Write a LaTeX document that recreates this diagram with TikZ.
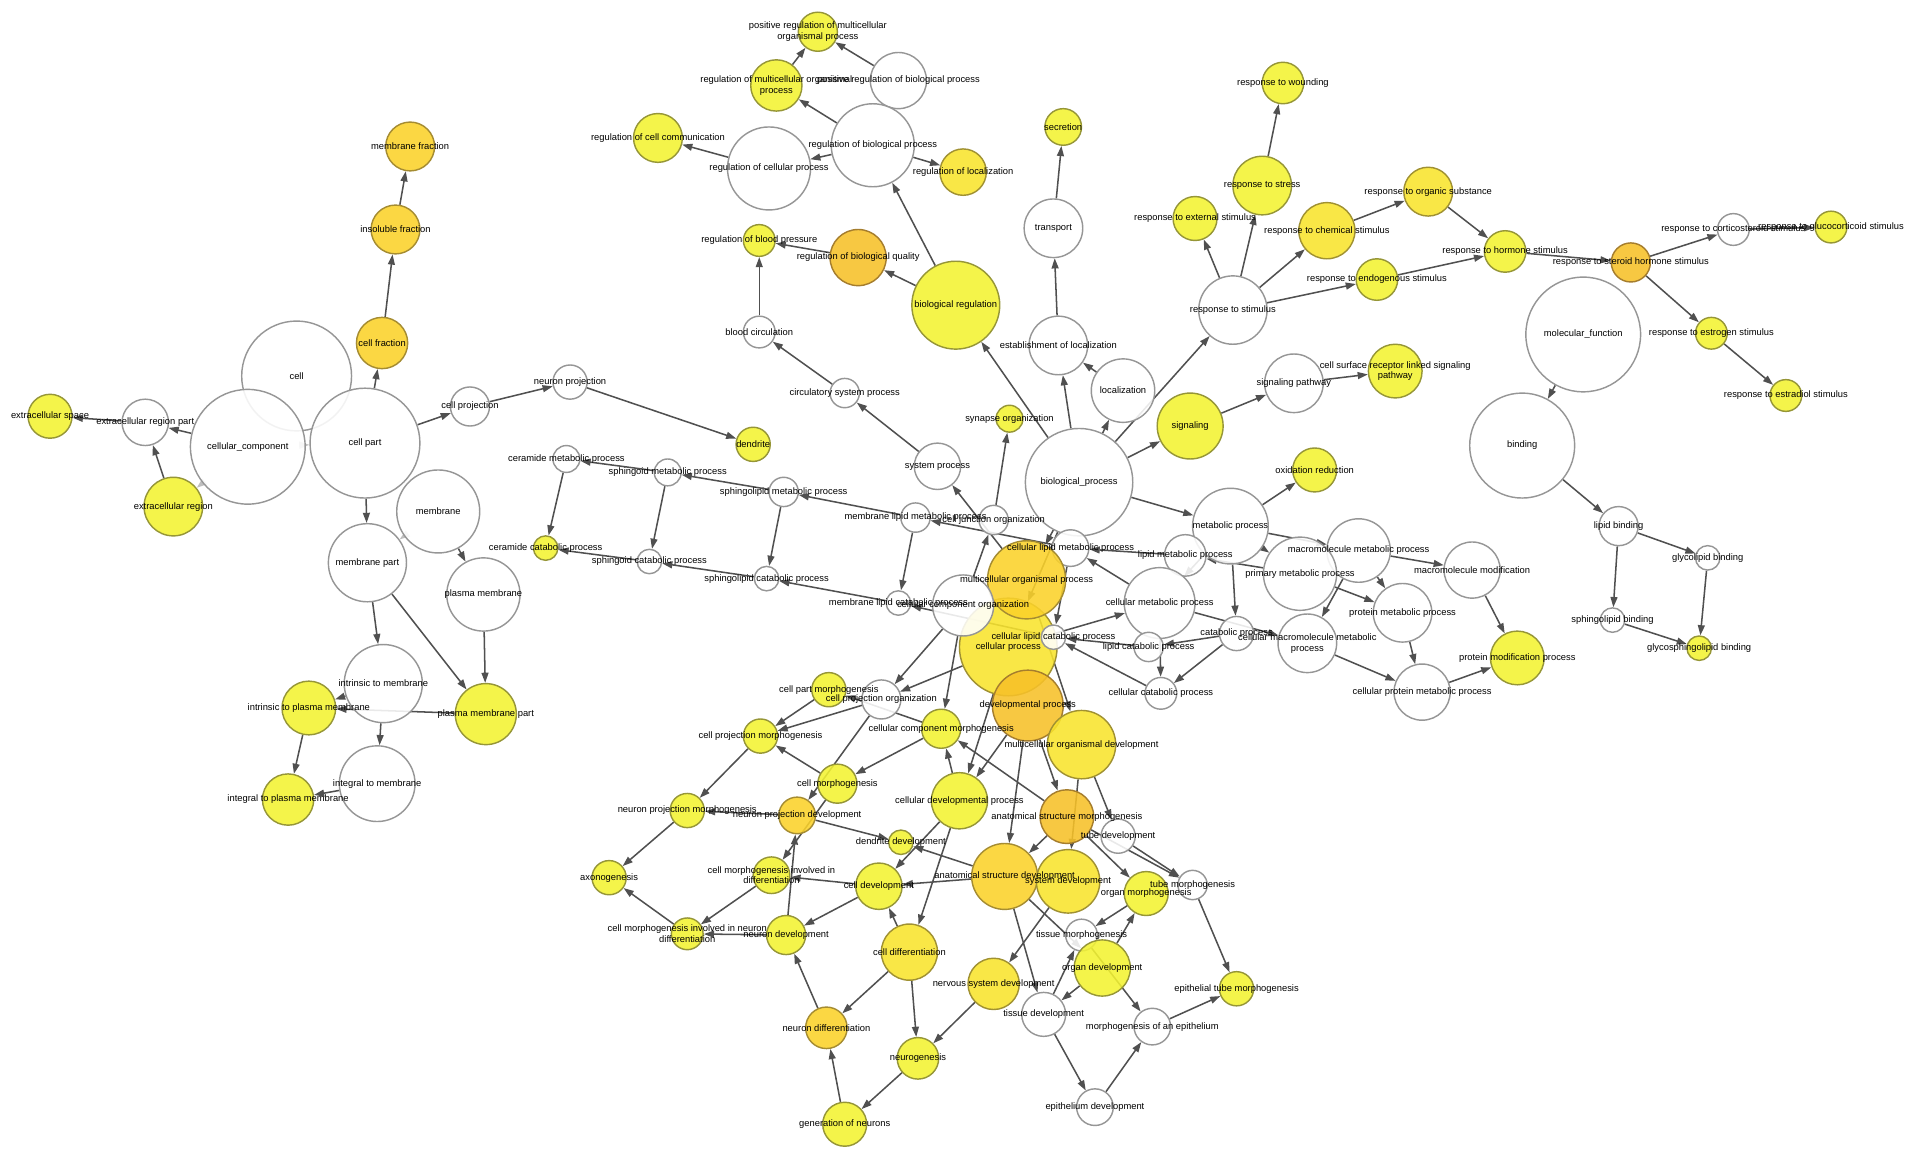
\documentclass[tikz,border=0pt]{standalone}
\usepackage{fontspec}
\setmainfont{Liberation Sans}
\usetikzlibrary{arrows.meta}
\pgfdeclarelayer{bg}
\pgfdeclarelayer{fg}
\pgfsetlayers{bg,main,fg}
\definecolor{cW}{RGB}{255,255,255}
\definecolor{cWl}{RGB}{150,150,150}
\definecolor{cY}{RGB}{243,243,50}
\definecolor{cYl}{RGB}{150,150,55}
\definecolor{cYO}{RGB}{249,228,45}
\definecolor{cYOl}{RGB}{160,145,50}
\definecolor{cG}{RGB}{251,210,42}
\definecolor{cGl}{RGB}{165,140,50}
\definecolor{cO}{RGB}{247,193,40}
\definecolor{cOl}{RGB}{165,125,45}
\definecolor{edgec}{RGB}{80,80,80}
\tikzset{
 gnode/.style={circle,inner sep=0pt,line width=0.7pt,fill opacity=0.88},
 lab/.style={inner sep=0pt,align=center,font=\fontsize{4.6}{5.2}\selectfont,text=black},
 edge/.style={draw=edgec,line width=0.75pt,-{Triangle[length=5pt,width=3.4pt]}},
 ledge/.style={draw=black!25,line width=0.75pt,-{Triangle[length=5pt,width=3.4pt]}},
}
\newcommand\gn[6]{\node[gnode,fill=#5,draw=#5l,minimum size=#4*1.2pt] (#1) at (#2,#3) {};
 \begin{pgfonlayer}{fg}\node[lab] at (#2,#3) {#6};\end{pgfonlayer}}
\newcommand\ed[2]{\draw[edge] (#1) -- (#2);}
\newcommand\edl[2]{\draw[ledge] (#1) -- (#2);}
\begin{document}
\begin{tikzpicture}[x=0.6pt,y=-0.6pt]
\begin{pgfonlayer}{bg}
\fill[white] (0,0) rectangle (1568,949);
\end{pgfonlayer}
\useasboundingbox (0,0) rectangle (1568,949);
% ---------- left cluster
\gn{cell}{243}{308}{45}{cW}{cell}
\gn{cc}{203}{366}{47}{cW}{cellular\_component}
\gn{cpart}{299}{363}{45}{cW}{cell part}
\gn{ecs}{41}{341}{18}{cY}{extracellular space}
\gn{ecrp}{119}{346}{19}{cW}{extracellular region part}
\gn{ecr}{142}{415}{24}{cY}{extracellular region}
\gn{cfrac}{313}{281}{21}{cG}{cell fraction}
\gn{insol}{324}{188}{20}{cG}{insoluble fraction}
\gn{memfrac}{336}{120}{20}{cG}{membrane fraction}
\gn{cproj}{385}{333}{16}{cW}{cell projection}
\gn{nproj}{467}{313}{14}{cW}{neuron projection}
\gn{dendrite}{617}{364}{14}{cY}{dendrite}
\gn{mem}{359}{419}{34}{cW}{membrane}
\gn{mempart}{301}{461}{32}{cW}{membrane part}
\gn{pm}{396}{487}{30}{cW}{plasma membrane}
\gn{itm}{314}{560}{32}{cW}{intrinsic to membrane}
\gn{itpm}{253}{580}{22}{cY}{intrinsic to plasma membrane}
\gn{pmp}{398}{585}{25}{cY}{plasma membrane part}
\gn{igm}{309}{642}{31}{cW}{integral to membrane}
\gn{igpm}{236}{655}{21}{cY}{integral to plasma membrane}
% ---------- regulation cluster
\gn{prmop}{670}{26}{16}{cY}{positive regulation of multicellular\\organismal process}
\gn{rmop}{636}{70}{21}{cY}{regulation of multicellular organismal\\process}
\gn{prbp}{736}{66}{23}{cW}{positive regulation of biological process}
\gn{rbp}{715}{119}{34}{cW}{regulation of biological process}
\gn{rcp}{630}{138}{34}{cW}{regulation of cellular process}
\gn{rcc}{539}{113}{20}{cY}{regulation of cell communication}
\gn{rloc}{789}{141}{19}{cYO}{regulation of localization}
\gn{rbpr}{622}{197}{13}{cY}{regulation of blood pressure}
\gn{rbq}{703}{211}{23}{cO}{regulation of biological quality}
\gn{breg}{783}{250}{36}{cY}{biological regulation}
\gn{bcirc}{622}{272}{13}{cW}{blood circulation}
\gn{csp}{692}{322}{12}{cW}{circulatory system process}
\gn{sysp}{768}{382}{19}{cW}{system process}
\gn{transport}{863}{187}{24}{cW}{transport}
\gn{secretion}{871}{104}{15}{cY}{secretion}
\gn{estloc}{867}{283}{24}{cW}{establishment of localization}
\gn{loc}{920}{320}{26}{cW}{localization}
\gn{signaling}{975}{349}{27}{cY}{signaling}
\gn{synorg}{827}{343}{11}{cY}{synapse organization}
% ---------- response cluster
\gn{rwound}{1051}{68}{17}{cY}{response to wounding}
\gn{rstress}{1034}{152}{24}{cY}{response to stress}
\gn{rext}{979}{179}{18}{cY}{response to external stimulus}
\gn{rchem}{1087}{189}{23}{cYO}{response to chemical stimulus}
\gn{rorg}{1170}{157}{20}{cYO}{response to organic substance}
\gn{rhorm}{1233}{206}{17}{cY}{response to hormone stimulus}
\gn{rendo}{1128}{229}{17}{cY}{response to endogenous stimulus}
\gn{rstim}{1010}{254}{28}{cW}{response to stimulus}
\gn{sigpath}{1060}{314}{24}{cW}{signaling pathway}
\gn{csrlsp}{1143}{304}{22}{cY}{cell surface receptor linked signaling\\pathway}
\gn{rsteroid}{1336}{215}{16}{cO}{response to steroid hormone stimulus}
\gn{rcortico}{1420}{188}{13}{cW}{response to corticosteroid stimulus}
\gn{rgluco}{1500}{186}{13}{cY}{response to glucocorticoid stimulus}
\gn{restro}{1402}{273}{13}{cY}{response to estrogen stimulus}
\gn{restra}{1463}{324}{13}{cY}{response to estradiol stimulus}
\gn{molf}{1297}{274}{47}{cW}{molecular\_function}
\gn{binding}{1247}{365}{43}{cW}{binding}
\gn{lipbind}{1326}{431}{16}{cW}{lipid binding}
\gn{glybind}{1399}{457}{10}{cW}{glycolipid binding}
\gn{sphbind}{1321}{508}{10}{cW}{sphingolipid binding}
\gn{gsbind}{1392}{531}{10}{cY}{glycosphingolipid binding}
% ---------- metabolic cluster
\gn{metp}{1008}{431}{31}{cW}{metabolic process}
\gn{oxred}{1077}{385}{18}{cY}{oxidation reduction}
\gn{lipmp}{971}{455}{17}{cW}{lipid metabolic process}
\gn{mmp}{1113}{451}{26}{cW}{macromolecule metabolic process}
\gn{primp}{1065}{470}{30}{cW}{primary metabolic process}
\gn{mmod}{1206}{467}{23}{cW}{macromolecule modification}
\gn{protmp}{1149}{502}{24}{cW}{protein metabolic process}
\gn{cprotmp}{1165}{567}{23}{cW}{cellular protein metabolic process}
\gn{pmodp}{1243}{539}{22}{cY}{protein modification process}
\gn{cmetp}{950}{494}{29}{cW}{cellular metabolic process}
\gn{catp}{1013}{519}{14}{cW}{catabolic process}
\gn{cmmp}{1071}{527}{24}{cW}{cellular macromolecule metabolic\\process}
\gn{lipcatp}{941}{530}{12}{cW}{lipid catabolic process}
\gn{ccatp}{951}{568}{13}{cW}{cellular catabolic process}
\gn{cermp}{464}{376}{11}{cW}{ceramide metabolic process}
\gn{sdmp}{547}{387}{11}{cW}{sphingoid metabolic process}
\gn{slmp}{642}{403}{12}{cW}{sphingolipid metabolic process}
\gn{mlmp}{750}{424}{12}{cW}{membrane lipid metabolic process}
\gn{cercat}{447}{449}{10}{cY}{ceramide catabolic process}
\gn{sdcat}{532}{460}{10}{cW}{sphingoid catabolic process}
\gn{slcat}{628}{474}{10}{cW}{sphingolipid catabolic process}
\gn{mlcat}{736}{494}{10}{cW}{membrane lipid catabolic process}
\gn{bp}{884}{395}{44}{cW}{biological\_process}
\gn{clipmp}{877}{449}{15}{cW}{cellular lipid metabolic process}
\gn{sorg}{814}{426}{12}{cW}{cell junction organization}
% ---------- central big nodes
\gn{cellp}{826}{530}{40}{cYO}{cellular process}
\gn{mop}{841}{475}{32}{cG}{multicellular organismal process}
\gn{devp}{842}{578}{29}{cO}{developmental process}
\gn{cco}{789}{496}{25}{cW}{cellular component organization}
\gn{clipcatp}{863}{522}{10}{cW}{cellular lipid catabolic process}
% ---------- developmental cluster
\gn{cpm}{679}{565}{14}{cY}{cell part morphogenesis}
\gn{cpo}{722}{573}{16}{cW}{cell projection organization}
\gn{cprojm}{623}{603}{14}{cY}{cell projection morphogenesis}
\gn{ccm}{771}{597}{16}{cY}{cellular component morphogenesis}
\gn{cm}{686}{642}{16}{cY}{cell morphogenesis}
\gn{npm}{563}{664}{14}{cY}{neuron projection morphogenesis}
\gn{npd}{653}{668}{15}{cG}{neuron projection development}
\gn{cdp}{786}{656}{23}{cY}{cellular developmental process}
\gn{dd}{738}{690}{10}{cY}{dendrite development}
\gn{axon}{499}{719}{14}{cY}{axonogenesis}
\gn{cmid}{632}{717}{15}{cY}{cell morphogenesis involved in\\differentiation}
\gn{cdev}{720}{726}{19}{cY}{cell development}
\gn{cmind}{563}{765}{13}{cY}{cell morphogenesis involved in neuron\\differentiation}
\gn{ndev}{644}{766}{16}{cY}{neuron development}
\gn{cdiff}{745}{780}{23}{cYO}{cell differentiation}
\gn{ndiff}{677}{842}{17}{cG}{neuron differentiation}
\gn{neurog}{752}{867}{17}{cY}{neurogenesis}
\gn{genn}{692}{921}{18}{cY}{generation of neurons}
\gn{mod}{886}{610}{28}{cYO}{multicellular organismal development}
\gn{asm}{874}{669}{22}{cO}{anatomical structure morphogenesis}
\gn{xdev}{916}{685}{14}{cW}{tube development}
\gn{asd}{823}{718}{27}{cG}{anatomical structure development}
\gn{sysdev}{875}{722}{26}{cYO}{system development}
\gn{orgm}{939}{732}{18}{cY}{organ morphogenesis}
\gn{tubem}{977}{725}{12}{cW}{tube morphogenesis}
\gn{tism}{886}{766}{13}{cW}{tissue morphogenesis}
\gn{orgd}{903}{793}{23}{cY}{organ development}
\gn{nsd}{814}{806}{21}{cYO}{nervous system development}
\gn{tisd}{855}{831}{18}{cW}{tissue development}
\gn{moe}{944}{841}{15}{cW}{morphogenesis of an epithelium}
\gn{etm}{1013}{810}{14}{cY}{epithelial tube morphogenesis}
\gn{epid}{897}{907}{15}{cW}{epithelium development}
% ---------- edges
\begin{pgfonlayer}{bg}
\ed{cc}{ecrp}\ed{ecrp}{ecs}\ed{ecr}{ecrp}\edl{cc}{ecr}\edl{cc}{cpart}
\ed{cpart}{cfrac}\ed{cfrac}{insol}\ed{insol}{memfrac}\ed{cpart}{cproj}
\ed{cproj}{nproj}\ed{nproj}{dendrite}\ed{cpart}{mempart}\edl{mem}{mempart}
\ed{mem}{pm}\ed{mempart}{itm}\ed{mempart}{pmp}\ed{pm}{pmp}\ed{itm}{itpm}
\ed{pmp}{itpm}\ed{itm}{igm}\ed{itpm}{igpm}\ed{igm}{igpm}
\ed{rbp}{rcp}\ed{rcp}{rcc}\ed{rbp}{rmop}\ed{rmop}{prmop}\ed{prbp}{prmop}
\ed{rbp}{rloc}\ed{breg}{rbp}\ed{breg}{rbq}\ed{rbq}{rbpr}\ed{bcirc}{rbpr}
\ed{csp}{bcirc}\ed{sysp}{csp}\ed{bp}{breg}\ed{bp}{estloc}\ed{bp}{loc}
\ed{loc}{estloc}\ed{estloc}{transport}\ed{transport}{secretion}
\ed{bp}{signaling}\ed{bp}{rstim}\ed{mop}{sysp}\ed{cco}{sorg}\ed{sorg}{synorg}
\ed{rstim}{rext}\ed{rstim}{rstress}\ed{rstim}{rchem}\ed{rstim}{rendo}
\ed{rstress}{rwound}\ed{rchem}{rorg}\ed{rorg}{rhorm}\ed{rendo}{rhorm}
\ed{rhorm}{rsteroid}\ed{rsteroid}{rcortico}\ed{rcortico}{rgluco}
\ed{rsteroid}{restro}\ed{restro}{restra}\ed{signaling}{sigpath}\ed{sigpath}{csrlsp}
\ed{molf}{binding}\ed{binding}{lipbind}\ed{lipbind}{glybind}\ed{lipbind}{sphbind}
\ed{glybind}{gsbind}\ed{sphbind}{gsbind}
\ed{bp}{metp}\ed{metp}{oxred}\ed{metp}{mmp}\ed{metp}{primp}\ed{metp}{catp}
\ed{metp}{cmetp}\ed{primp}{lipmp}\ed{lipmp}{clipmp}\ed{cmetp}{clipmp}
\ed{clipmp}{mlmp}\ed{mlmp}{slmp}\ed{slmp}{sdmp}\ed{sdmp}{cermp}\ed{cermp}{cercat}
\ed{sdmp}{sdcat}\ed{slmp}{slcat}\ed{mlmp}{mlcat}\ed{mlcat}{slcat}\ed{slcat}{sdcat}
\ed{sdcat}{cercat}\ed{clipcatp}{mlcat}\ed{lipcatp}{clipcatp}\ed{ccatp}{clipcatp}
\ed{catp}{lipcatp}\ed{catp}{ccatp}\ed{cmetp}{ccatp}\ed{cmetp}{cmmp}
\ed{mmp}{mmod}\ed{mmp}{protmp}\ed{primp}{protmp}\ed{mmp}{cmmp}\ed{cmmp}{cprotmp}
\ed{protmp}{cprotmp}\ed{cprotmp}{pmodp}\ed{mmod}{pmodp}\ed{cellp}{cmetp}
\ed{clipmp}{clipcatp}\ed{bp}{mop}\ed{bp}{cellp}
\ed{cco}{cpo}\ed{cellp}{cpo}\ed{cco}{ccm}\ed{ccm}{cpm}\ed{cpo}{cprojm}
\ed{cpm}{cprojm}\ed{cm}{cprojm}\ed{ccm}{cm}\ed{cprojm}{npm}\ed{npd}{npm}
\ed{npm}{axon}\ed{cmind}{axon}\ed{cmid}{cmind}\ed{ndev}{cmind}\ed{cdev}{ndev}
\ed{ndev}{npd}\ed{cpo}{npd}\ed{cm}{cmid}\ed{cdev}{cmid}\ed{npd}{dd}\ed{asd}{dd}
\ed{cdp}{cdev}\ed{cdp}{cdiff}\ed{cdiff}{cdev}\ed{asd}{cdev}\ed{cdp}{ccm}
\ed{asm}{ccm}\ed{devp}{cdp}\ed{cellp}{cdp}\ed{devp}{asd}\ed{devp}{asm}
\ed{mop}{mod}\ed{mod}{sysdev}\ed{mod}{xdev}\ed{asm}{asd}\ed{xdev}{tubem}
\ed{asm}{tubem}\ed{asm}{orgm}\ed{orgd}{orgm}\ed{orgm}{tism}\ed{tubem}{etm}
\ed{moe}{etm}\ed{tism}{moe}\ed{tisd}{tism}\ed{orgd}{tisd}\ed{sysdev}{nsd}
\ed{asd}{tisd}\ed{asd}{orgd}\ed{cdiff}{ndiff}\ed{cdiff}{neurog}\ed{neurog}{genn}
\ed{genn}{ndiff}\ed{ndiff}{ndev}\ed{nsd}{neurog}\ed{tisd}{epid}\ed{epid}{moe}
\end{pgfonlayer}
\end{tikzpicture}
\end{document}
